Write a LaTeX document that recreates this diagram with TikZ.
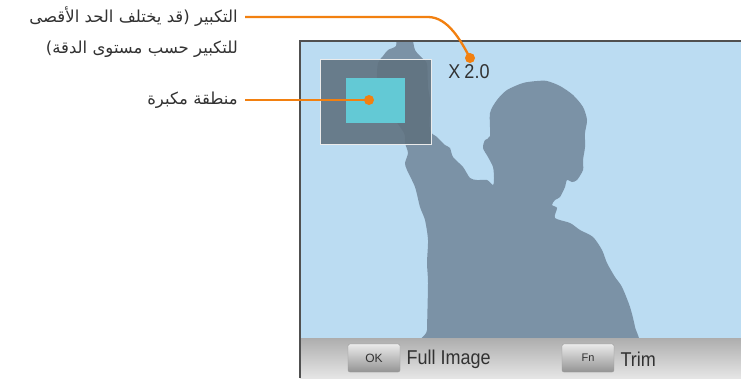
\documentclass[tikz,border=0pt]{standalone}
\usepackage{fontspec}
\setmainfont{Liberation Sans}
\newfontfamily\arabicfont[Script=Arabic]{DejaVu Sans}
\newfontfamily\narrowfont[FakeStretch=0.9]{Liberation Sans}
\TeXXeTstate=1
\definecolor{screenblue}{RGB}{187,220,242}
\definecolor{figgrey}{RGB}{123,146,166}
\definecolor{boxgrey}{RGB}{96,114,128}
\definecolor{zoomcyan}{RGB}{99,201,213}
\definecolor{calloutorange}{RGB}{242,128,16}
\definecolor{labelgrey}{RGB}{50,50,50}
\definecolor{framegrey}{RGB}{80,80,80}

\begin{document}
\begin{tikzpicture}[x=1pt,y=-1pt,
    callout/.style={draw=calloutorange, line width=2.3pt},
    dot/.style={circle, fill=calloutorange, inner sep=0pt, minimum size=10pt},
    arlabel/.style={anchor=east, inner sep=0pt, text=labelgrey, font=\arabicfont\fontsize{16.5}{18}\selectfont},
    softkey/.style={draw=black!40, rounded corners=2pt, top color=black!8, bottom color=black!42,
        minimum width=52pt, minimum height=28pt, inner sep=0pt, text=labelgrey}]
    \useasboundingbox (0,0) rectangle (741,378);
    \fill[white] (0,0) rectangle (741,378);

    \fill[screenblue] (300,41) rectangle (741,338);
    \begin{scope}
        \clip (300,41) rectangle (741,338);
        \fill[figgrey] plot[smooth cycle, tension=0.45] coordinates {
            (427,345) (427,330) (428,283) (427,263) (428,240) (425,220) (420,207) (415,187)
            (407,170) (405,163) (408,153) (405,143) (404,133) (390,113) (382,100) (377,80)
            (378,63) (383,56) (388,50) (396,46) (397,36) (411,36) (415,50) (422,58) (427,64)
            (428,87) (430,100) (430,130) (437,137) (445,145) (450,148) (453,157) (463,167)
            (470,178) (477,180) (487,180) (493,185) (494,178) (493,167) (488,157) (483,148)
            (485,140) (490,136) (490,113) (497,100) (507,90) (523,83) (537,81) (547,81)
            (560,86) (573,95) (583,107) (587,120) (585,133) (585,147) (583,160) (583,170)
            (577,180) (572,182) (567,180) (565,187) (560,197) (555,200) (552,205) (557,208)
            (555,218) (570,223) (580,230) (593,237) (602,250) (607,263) (615,277) (622,287)
            (630,307) (635,327) (637,345) (586,345) (581,302) (577,345)};
    \end{scope}

    \shade[top color=black!32, bottom color=black!10] (300,338) rectangle (741,378);
    \draw[framegrey, line width=2pt] (300,378) -- (300,41) -- (741,41);

    \node[draw=white!92!black, line width=1.2pt, fill=boxgrey, fill opacity=0.9,
        minimum width=111pt, minimum height=85pt, anchor=north west] (zoombox) at (320,59) {};
    \node[fill=zoomcyan, minimum width=59pt, minimum height=45pt, inner sep=0pt,
        anchor=north west] (zoomarea) at (346,78) {};

    \node[text=labelgrey, font=\narrowfont\fontsize{20}{20}\selectfont] (ratio) at (469,72) {X\hspace{4pt}2.0};

    \node[softkey, font=\fontsize{12}{12}\selectfont] (okkey) at (374,358) {OK};
    \node[anchor=west, text=labelgrey, font=\narrowfont\fontsize{20}{20}\selectfont] (fullimg) at (403,359) {Full Image};
    \node[softkey, font=\fontsize{11}{11}\selectfont] (fnkey) at (588,358) {Fn};
    \node[anchor=west, text=labelgrey, font=\narrowfont\fontsize{20}{20}\selectfont] (trim) at (617,359) {Trim};

    \node[dot] (dotmag) at (470,58) {};
    \node[dot] (dotzoom) at (369,100) {};

    \node[arlabel] (lblmag) at (238,17) {\beginR التكبير (قد يختلف الحد الأقصى\endR};
    \node[arlabel] (lblmagb) at (238,49) {\beginR للتكبير حسب مستوى الدقة)\endR};
    \node[arlabel] (lblzoom) at (238,100) {\beginR منطقة مكبرة\endR};

    \draw[callout, shorten <=7pt] (lblmag.east) -- (428,17) .. controls +(20,0) and +(-9,-17) .. (dotmag.center);
    \draw[callout, shorten <=7pt] (lblzoom.east) -- (dotzoom.center);
\end{tikzpicture}
\end{document}
